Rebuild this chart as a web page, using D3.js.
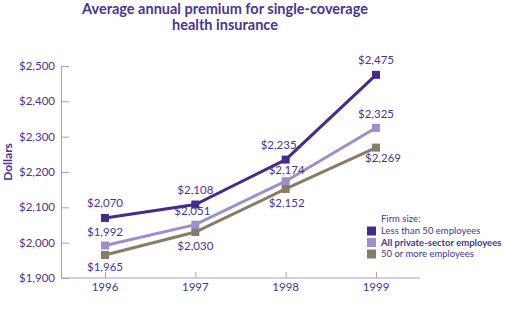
<!DOCTYPE html>
<html>
<head>
<meta charset="utf-8">
<script src="https://cdn.jsdelivr.net/npm/d3@7"></script>
<style>
  body { margin: 0; background: #fff; }
  text { font-family: Lato, "Open Sans", sans-serif; }
</style>
</head>
<body>
<svg id="chart"></svg>
<script>
// data
const years = ['1996', '1997', '1998', '1999'];
const smallFirms = [2070, 2108, 2235, 2475];
const allPrivate = [1992, 2051, 2174, 2325];
const largeFirms = [1965, 2030, 2152, 2269];
const yTicks = [1900, 2000, 2100, 2200, 2300, 2400, 2500];
const seriesNames = ['Less than 50 employees', 'All private-sector employees', '50 or more employees'];

// layout
const width = 514, height = 331;
const x0 = 61, x1 = 420, yTop = 66, yBottom = 278;
const textColor = '#4a3590';
const colors = ['#472a8c', '#9d8fcb', '#8a7b69'];
// label offsets per series / point (nudges so labels avoid the lines)
const labelDy = [[-15, -15, -15, -15], [-14, -14, -11, -14], [12, 14, 14, 10]];
const labelDx = [[0, 0, -7, 0], [0, -3, 1, 0], [0, 0, 1, 7]];

const svg = d3.select('#chart')
  .attr('width', width)
  .attr('height', height);

const x = d3.scalePoint()
  .domain(years)
  .range([105, 376]);

const y = d3.scaleLinear()
  .domain([1900, 2500])
  .range([yBottom, yTop]);

const fmt = d => '$' + d3.format(',')(d);

//title
['Average annual premium for single-coverage', 'health insurance'].forEach((t, i) => {
  svg.append('text')
    .attr('x', 225).attr('y', 14 + i * 16)
    .attr('text-anchor', 'middle')
    .attr('fill', textColor)
    .style('font-size', '14.5px').style('font-weight', 'bold')
    .text(t);
});

//axes
svg.append('g')
  .attr('transform', `translate(${x0},0)`)
  .call(d3.axisRight(y).tickValues(yTicks).tickSize(8).tickFormat(''));
const xAxis = svg.append('g')
  .attr('transform', `translate(0,${yBottom})`)
  .call(d3.axisTop(x).tickSize(6).tickFormat(''));
xAxis.select('.domain').attr('d', `M${x0},0H${x1}`);
svg.selectAll('.domain, .tick line').attr('stroke', '#a99ccd').attr('stroke-width', 1);

svg.append('g').selectAll('text')
  .data(yTicks)
  .enter().append('text')
    .attr('x', x0 - 6)
    .attr('y', d => y(d))
    .attr('dy', '.35em')
    .attr('text-anchor', 'end')
    .attr('fill', textColor)
    .style('font-size', '11.5px')
    .text(fmt);

svg.append('g').selectAll('text')
  .data(years)
  .enter().append('text')
    .attr('x', d => x(d))
    .attr('y', yBottom + 13)
    .attr('text-anchor', 'middle')
    .attr('fill', textColor)
    .style('font-size', '11.5px')
    .text(d => d);

svg.append('text')
  .attr('transform', `translate(12,${(yTop + yBottom) / 2 - 10}) rotate(-90)`)
  .attr('text-anchor', 'middle')
  .attr('fill', textColor)
  .style('font-size', '12px').style('font-weight', 'bold')
  .text('Dollars');

//lines and markers
const seriesData = [smallFirms, allPrivate, largeFirms];
const line = d3.line()
  .x((d, i) => x(years[i]))
  .y(d => y(d));

// draw bottom series first so the top line sits above
[2, 1, 0].forEach(s => {
  const g = svg.append('g');
  g.append('path')
    .datum(seriesData[s])
    .attr('fill', 'none')
    .attr('stroke', colors[s])
    .attr('stroke-width', 3)
    .attr('d', line);
  g.selectAll('rect')
    .data(seriesData[s])
    .enter().append('rect')
      .attr('x', (d, i) => x(years[i]) - 4)
      .attr('y', d => y(d) - 4)
      .attr('width', 8)
      .attr('height', 8)
      .attr('fill', colors[s]);
  g.selectAll('text')
    .data(seriesData[s])
    .enter().append('text')
      .attr('x', (d, i) => x(years[i]) + labelDx[s][i])
      .attr('y', (d, i) => y(d) + labelDy[s][i])
      .attr('dy', '.35em')
      .attr('text-anchor', 'middle')
      .attr('fill', textColor)
      .style('font-size', '11.5px')
      .text(fmt);
});

//legend
const legend = svg.append('g').attr('transform', 'translate(367,219)');
legend.append('text')
  .attr('x', 14).attr('y', 0).attr('dy', '.35em')
  .attr('fill', textColor)
  .style('font-size', '9.5px')
  .text('Firm size:');
const item = legend.selectAll('.legend')
  .data(seriesNames)
  .enter().append('g')
    .attr('class', 'legend')
    .attr('transform', (d, i) => `translate(0,${12 + i * 11.5})`);
item.append('rect')
  .attr('x', 0).attr('y', -4.5)
  .attr('width', 9).attr('height', 9)
  .attr('fill', (d, i) => colors[i]);
item.append('text')
  .attr('x', 14).attr('dy', '.35em')
  .attr('fill', textColor)
  .style('font-size', '9.5px')
  .style('font-weight', (d, i) => i === 1 ? 'bold' : 'normal')
  .text(d => d);
</script>
</body>
</html>
